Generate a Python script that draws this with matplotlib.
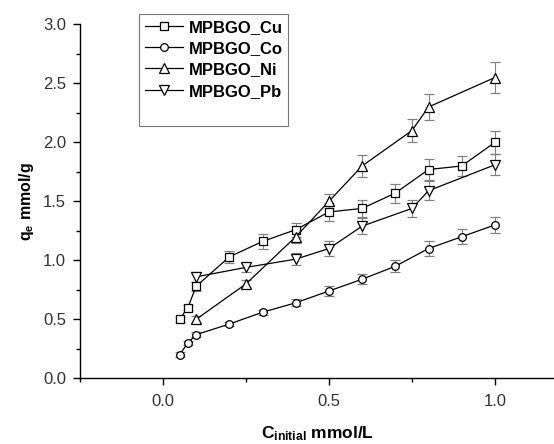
import numpy as np
import matplotlib.pyplot as plt
from matplotlib.lines import Line2D
from matplotlib.ticker import MultipleLocator

## concentrations (mmol/L) and uptake (mmol/g)
x_cu = [0.05, 0.075, 0.1, 0.2, 0.3, 0.4, 0.5, 0.6, 0.7, 0.8, 0.9, 1.0]
q_cu = [0.50, 0.60, 0.78, 1.03, 1.16, 1.26, 1.41, 1.44, 1.57, 1.77, 1.80, 2.00]
e_cu = [0.02, 0.02, 0.04, 0.05, 0.06, 0.06, 0.08, 0.07, 0.08, 0.085, 0.088, 0.10]

x_co = [0.05, 0.075, 0.1, 0.2, 0.3, 0.4, 0.5, 0.6, 0.7, 0.8, 0.9, 1.0]
q_co = [0.20, 0.30, 0.37, 0.46, 0.56, 0.64, 0.74, 0.84, 0.95, 1.10, 1.20, 1.30]
e_co = [0.02, 0.02, 0.02, 0.02, 0.02, 0.03, 0.04, 0.04, 0.05, 0.06, 0.063, 0.068]

x_ni = [0.1, 0.25, 0.4, 0.5, 0.6, 0.75, 0.8, 1.0]
q_ni = [0.50, 0.80, 1.20, 1.50, 1.80, 2.10, 2.30, 2.55]
e_ni = [0.03, 0.03, 0.05, 0.06, 0.09, 0.10, 0.11, 0.13]

x_pb = [0.1, 0.25, 0.4, 0.5, 0.6, 0.75, 0.8, 1.0]
q_pb = [0.86, 0.94, 1.01, 1.10, 1.29, 1.44, 1.59, 1.81]
e_pb = [0.04, 0.04, 0.05, 0.06, 0.07, 0.07, 0.08, 0.09]

labels = ["MPBGO_Cu", "MPBGO_Co", "MPBGO_Ni", "MPBGO_Pb"]
markers = ["s", "o", "^", "v"]
msizes = [5.5, 5.5, 6.5, 6.5]

FONT = "Liberation Sans"
TICK_COLOR = "#333333"
plt.rcParams["mathtext.default"] = "regular"

fig = plt.figure(figsize=(5.54, 4.44), dpi=100)
ax = fig.add_axes([0.1444, 0.148, 0.8556, 0.797])

series = [(x_cu, q_cu, e_cu), (x_co, q_co, e_co), (x_ni, q_ni, e_ni), (x_pb, q_pb, e_pb)]
for (x, q, e), lab, mk, ms in zip(series, labels, markers, msizes):
    ax.errorbar(x, q, yerr=e, fmt="-", color="black", lw=0.9,
                marker=mk, ms=ms, mfc="white", mec="black", mew=0.9,
                ecolor="#808080", elinewidth=0.8, capsize=3.5, capthick=0.8,
                label=lab)

ax.set_xlim(-0.25, 1.178)
ax.set_ylim(0, 3.0)
ax.xaxis.set_major_locator(MultipleLocator(0.5))
ax.xaxis.set_minor_locator(MultipleLocator(0.25))
ax.yaxis.set_major_locator(MultipleLocator(0.5))
ax.yaxis.set_minor_locator(MultipleLocator(0.25))
ax.xaxis.set_major_formatter(plt.FormatStrFormatter("%.1f"))
ax.yaxis.set_major_formatter(plt.FormatStrFormatter("%.1f"))

for s in ["top", "right"]:
    ax.spines[s].set_visible(False)
for s in ["left", "bottom"]:
    ax.spines[s].set_linewidth(1.0)

ax.tick_params(which="major", direction="out", length=5, width=1.0,
               labelsize=12, labelcolor=TICK_COLOR)
ax.tick_params(which="minor", direction="out", length=3, width=1.0)
ax.tick_params(axis="x", pad=6)
ax.tick_params(axis="y", pad=5)
for t in ax.get_xticklabels() + ax.get_yticklabels():
    t.set_fontfamily(FONT)

ax.set_ylabel(r"q$_\mathregular{e}$ mmol/g", fontsize=11.5, fontweight="bold",
              fontfamily=FONT, labelpad=5)
ax.set_xlabel(r"C$_\mathregular{initial}$ mmol/L", fontsize=12.5, fontweight="bold",
              fontfamily=FONT, labelpad=11)

# legend with trailing empty row like the original
handles, labs = ax.get_legend_handles_labels()
handles = [h[0] if isinstance(h, tuple) else h for h in handles]
handles = list(handles) + [Line2D([], [], color="none")]
labs = list(labs) + [" "]
leg = ax.legend(handles, labs, loc="upper left", bbox_to_anchor=(0.125, 1.03),
                frameon=True, fancybox=False, edgecolor="#555555",
                prop={"family": FONT, "weight": "bold", "size": 12},
                handlelength=2.3, handletextpad=0.3, labelspacing=0.38,
                borderpad=0.35, borderaxespad=0)
leg.get_frame().set_linewidth(0.8)

plt.savefig("out.png", dpi=100)
